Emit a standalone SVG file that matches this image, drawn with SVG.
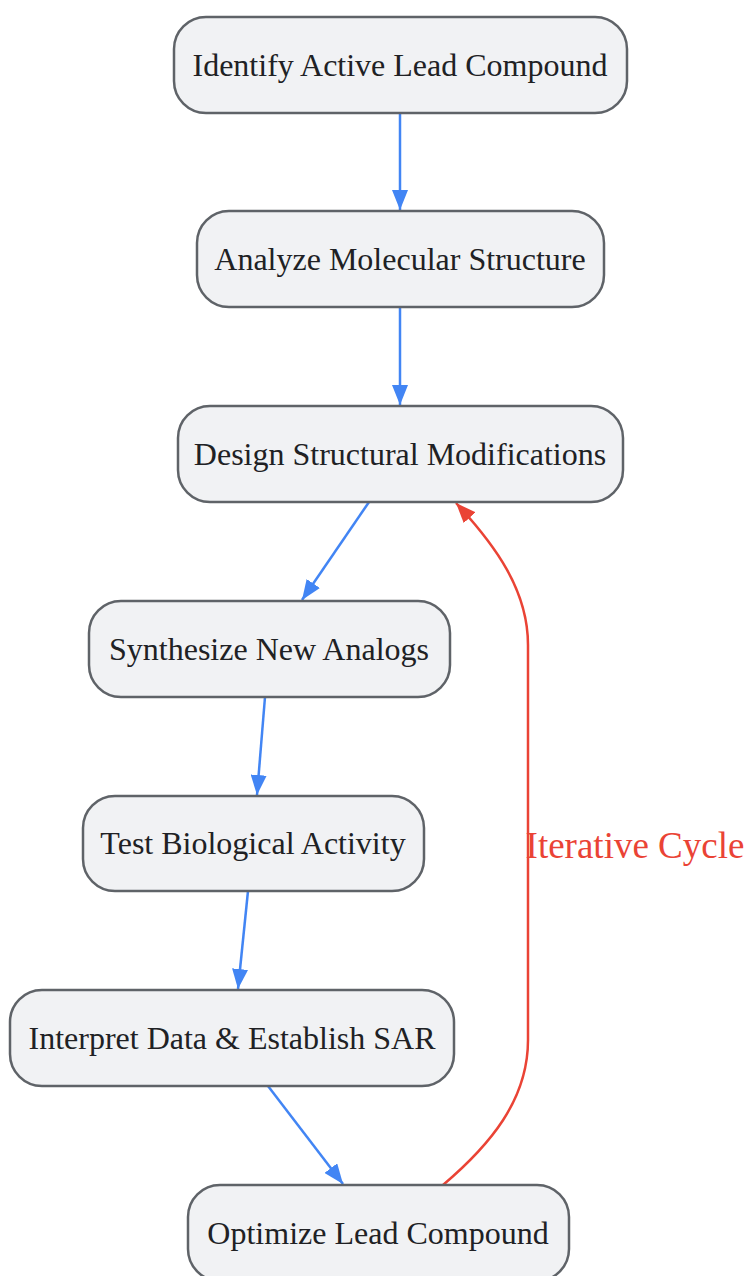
<svg xmlns="http://www.w3.org/2000/svg" width="748" height="1276" viewBox="0 0 748 1276">
<style>
.node rect{fill:#f1f2f4;stroke:#5f6368;stroke-width:2.5}
.node text{font-family:"Liberation Serif",serif;font-size:32px;fill:#202124;text-anchor:middle;dominant-baseline:central}
.e{fill:none;stroke:#4285f4;stroke-width:2.5}
.r{fill:none;stroke:#ea4335;stroke-width:2.5}
.lbl{font-family:"Liberation Serif",serif;font-size:37px;fill:#ea4335;text-anchor:middle;dominant-baseline:central}
</style>
<defs>
<marker id="ab" markerUnits="userSpaceOnUse" markerWidth="20" markerHeight="16" refX="20" refY="8" orient="auto"><path d="M0,0 L20,8 L0,16 z" fill="#4285f4"/></marker>
<marker id="ar" markerUnits="userSpaceOnUse" markerWidth="20" markerHeight="16" refX="20" refY="8" orient="auto"><path d="M0,0 L20,8 L0,16 z" fill="#ea4335"/></marker>
</defs>
<rect width="748" height="1276" fill="#ffffff"/>
<g id="connectors">
<path class="e" d="M400,113 L400,210" marker-end="url(#ab)"/>
<path class="e" d="M400,307 L400,405" marker-end="url(#ab)"/>
<path class="e" d="M369,502 L302,600" marker-end="url(#ab)"/>
<path class="e" d="M265,697 L257,795" marker-end="url(#ab)"/>
<path class="e" d="M248,891 L238,989" marker-end="url(#ab)"/>
<path class="e" d="M268,1086 L343,1184" marker-end="url(#ab)"/>
<path class="r" d="M443,1185 C490,1145 528,1100 528,1040 L528,645 C528,590 495,545 456,503" marker-end="url(#ar)"/>
<text class="lbl" x="635" y="845">Iterative Cycle</text>
</g>
<g id="n1" class="node"><rect x="174" y="17" width="453" height="96" rx="32"/><text x="400" y="65">Identify Active Lead Compound</text></g>
<g id="n2" class="node"><rect x="197" y="211" width="407" height="96" rx="32"/><text x="400" y="259">Analyze Molecular Structure</text></g>
<g id="n3" class="node"><rect x="178" y="406" width="445" height="96" rx="32"/><text x="400" y="454">Design Structural Modifications</text></g>
<g id="n4" class="node"><rect x="89" y="601" width="361" height="96" rx="32"/><text x="269" y="649">Synthesize New Analogs</text></g>
<g id="n5" class="node"><rect x="83" y="796" width="341" height="95" rx="32"/><text x="253" y="843">Test Biological Activity</text></g>
<g id="n6" class="node"><rect x="10" y="990" width="444" height="96" rx="32"/><text x="232" y="1038">Interpret Data &amp; Establish SAR</text></g>
<g id="n7" class="node"><rect x="188" y="1185" width="381" height="96" rx="32"/><text x="378" y="1233">Optimize Lead Compound</text></g>
</svg>
